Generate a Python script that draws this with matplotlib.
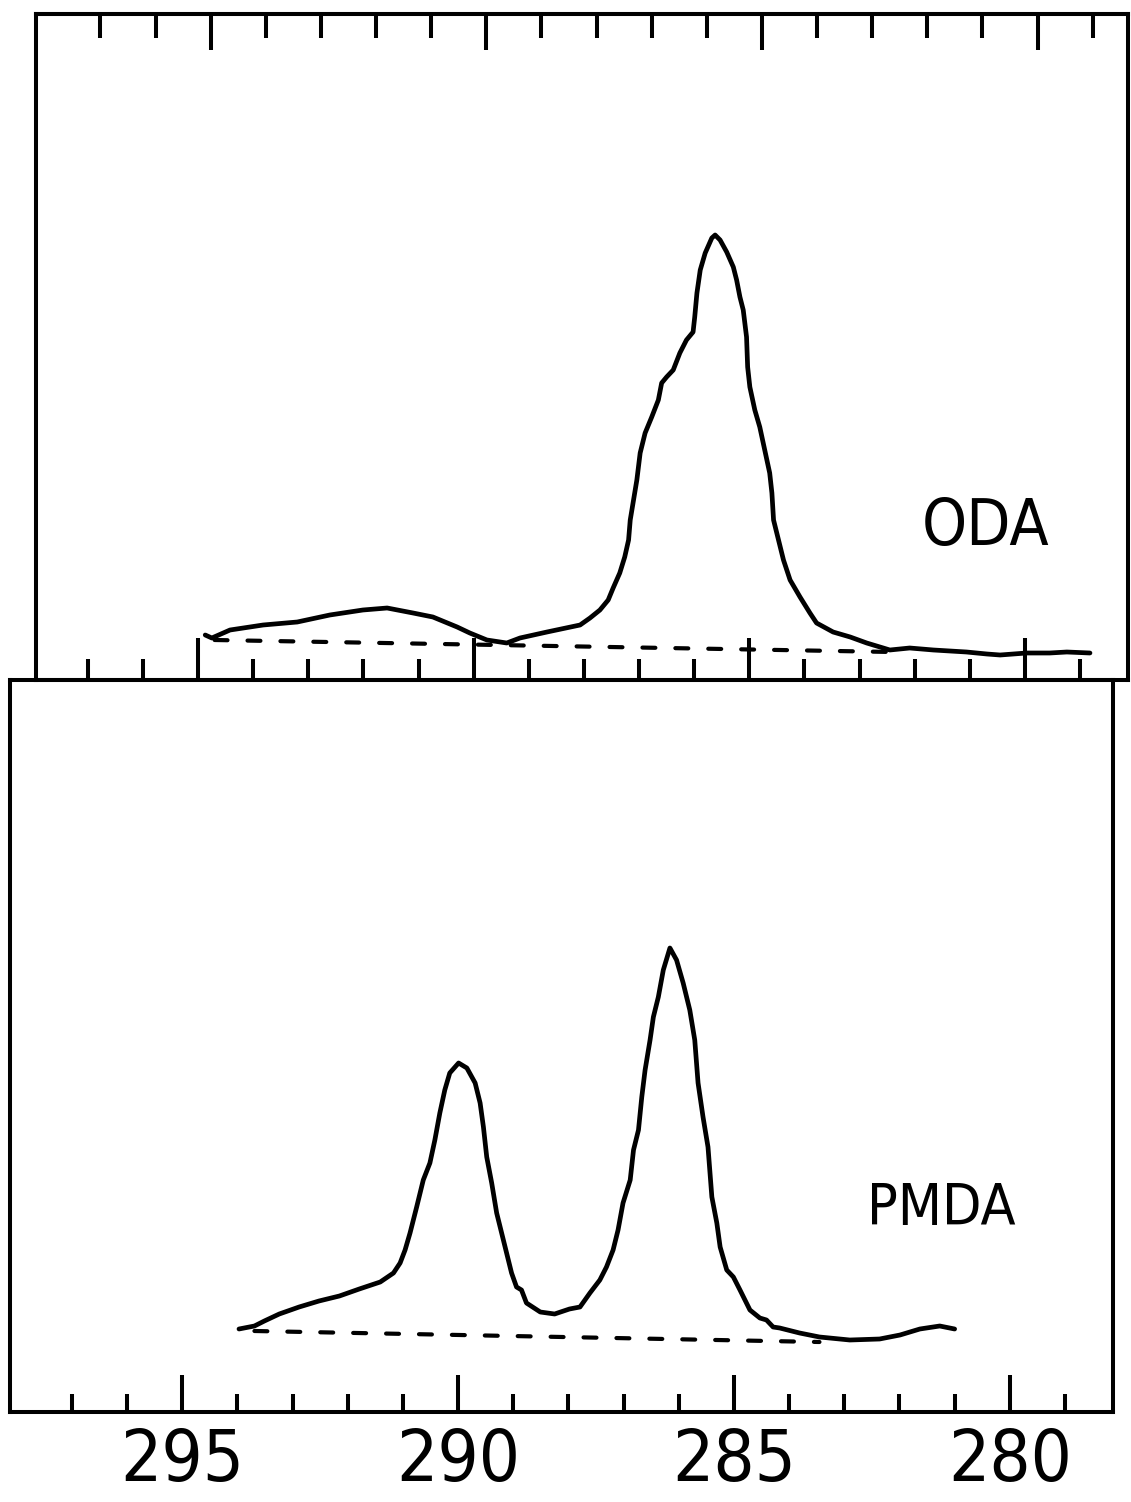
import matplotlib
matplotlib.use("Agg")
import matplotlib.pyplot as plt
from matplotlib.ticker import FixedLocator

# ---------------- data (binding energy in eV, intensity in arb. units) ----------------
oda_be = [294.87, 294.75, 294.42, 293.82, 293.20, 292.61, 292.01, 291.57, 291.10, 290.74,
          290.30, 290.07, 289.76, 289.40, 289.16, 288.67, 288.07, 287.89, 287.71, 287.56,
          287.47, 287.35, 287.26, 287.19, 287.16, 287.10, 287.04, 286.98, 286.89, 286.77,
          286.65, 286.59, 286.50, 286.38, 286.26, 286.14, 286.02, 285.99, 285.95, 285.89,
          285.80, 285.68, 285.62, 285.53, 285.41, 285.29, 285.23, 285.17, 285.11, 285.05,
          285.03, 284.99, 284.90, 284.81, 284.72, 284.63, 284.59, 284.56, 284.47, 284.38,
          284.26, 284.08, 283.90, 283.78, 283.48, 283.17, 282.87, 282.45, 282.09, 281.66,
          281.06, 280.69, 280.45, 279.97, 279.55, 279.24, 278.82]
oda_int = [45, 42, 50, 55, 58, 65, 70, 72, 67, 63,
           53, 47, 40, 37, 42, 48, 55, 62, 70, 80,
           92, 107, 123, 140, 160, 180, 200, 227, 247, 263,
           280, 297, 303, 310, 327, 340, 348, 363, 387, 410,
           427, 442, 445, 440, 428, 413, 400, 383, 370, 343,
           313, 293, 270, 253, 230, 207, 187, 160, 140, 120,
           100, 83, 67, 57, 48, 43, 37, 30, 32, 30,
           28, 26, 25, 27, 27, 28, 27]
oda_base_be = [294.70, 282.40]
oda_base_int = [40, 28]

pmda_be = [293.97, 293.69, 293.51, 293.24, 292.88, 292.52, 292.15, 291.79, 291.41, 291.17,
           291.05, 290.96, 290.87, 290.75, 290.63, 290.51, 290.42, 290.33, 290.24, 290.15,
           289.99, 289.84, 289.69, 289.60, 289.54, 289.48, 289.39, 289.30, 289.21, 289.12,
           289.03, 288.94, 288.85, 288.76, 288.51, 288.25, 287.98, 287.79, 287.61, 287.43,
           287.31, 287.19, 287.10, 287.01, 286.88, 286.82, 286.73, 286.67, 286.61, 286.52,
           286.46, 286.37, 286.28, 286.16, 286.04, 285.92, 285.80, 285.71, 285.65, 285.56,
           285.47, 285.40, 285.31, 285.25, 285.13, 285.01, 284.89, 284.71, 284.53, 284.41,
           284.29, 284.17, 283.81, 283.45, 282.90, 282.36, 281.99, 281.63, 281.27, 281.00]
pmda_int = [83, 86, 91, 98, 105, 111, 116, 123, 130, 139,
            149, 162, 179, 205, 232, 249, 272, 299, 322, 339,
            349, 344, 329, 309, 285, 255, 229, 199, 179, 159,
            139, 125, 122, 109, 100, 98, 103, 105, 119, 132,
            145, 162, 182, 209, 232, 262, 282, 315, 342, 372,
            395, 415, 442, 464, 452, 429, 402, 372, 329, 295,
            265, 215, 189, 165, 142, 135, 122, 102, 94, 92,
            85, 84, 79, 75, 72, 73, 77, 83, 86, 83]
pmda_base_be = [293.69, 283.45]
pmda_base_int = [81, 70]

major_ticks = [295, 290, 285, 280]
minor_ticks = list(range(279, 298))
tick_labels = ["295", "290", "285", "280"]
panel_names = ["ODA", "PMDA"]

# ---------------- figure ----------------
W, H = 1131, 1502
fig = plt.figure(figsize=(W / 100, H / 100), dpi=100)
fig.patch.set_facecolor("white")

font = ["DejaVu Sans"]
lw_spine = 2.9
lw_curve = 3.4

ax1 = fig.add_axes([36 / W, (H - 680) / H, 1092 / W, 666 / H])
ax2 = fig.add_axes([10 / W, (H - 1412) / H, 1103 / W, 732 / H])

ax1.set_xlim(297.94, 278.13)
ax1.set_ylim(0, 666)
ax2.set_xlim(298.12, 278.13)
ax2.set_ylim(0, 732)

for ax in (ax1, ax2):
    for s in ax.spines.values():
        s.set_linewidth(lw_spine)
        s.set_color("black")
    ax.set_yticks([])
    ax.set_facecolor("none")
    ax.xaxis.set_major_locator(FixedLocator(major_ticks))
    ax.xaxis.set_minor_locator(FixedLocator(minor_ticks))

# top panel: ticks on its bottom edge (pointing in), no labels
ax1.tick_params(axis="x", which="major", direction="in", length=30, width=2.9,
                bottom=True, top=False, labelbottom=False)
ax1.tick_params(axis="x", which="minor", direction="in", length=15, width=2.9,
                bottom=True, top=False)

# top edge ticks of the top panel (slightly offset, as in the scan)
sec = ax1.secondary_xaxis("top", functions=(lambda x: x + 0.23, lambda x: x - 0.23))
sec.xaxis.set_major_locator(FixedLocator(major_ticks))
sec.xaxis.set_minor_locator(FixedLocator(minor_ticks))
sec.tick_params(axis="x", which="major", direction="in", length=26, width=2.9, labeltop=False)
sec.tick_params(axis="x", which="minor", direction="in", length=17, width=2.9)
sec.spines["top"].set_linewidth(lw_spine)

# bottom panel
ax2.set_xticklabels(tick_labels)
ax2.tick_params(axis="x", which="major", direction="in", length=27, width=2.9, pad=11)
ax2.tick_params(axis="x", which="minor", direction="in", length=13, width=2.9)
for lab in ax2.get_xticklabels():
    lab.set_fontfamily(font)
    lab.set_fontstretch("condensed")
    lab.set_fontsize(52)

# curves
ax1.plot(oda_be, oda_int, color="black", lw=lw_curve, solid_joinstyle="round",
         solid_capstyle="round")
ax1.plot(oda_base_be, oda_base_int, color="black", lw=3.0, dashes=(3.1, 4.8),
         dash_capstyle="round")
ax2.plot(pmda_be, pmda_int, color="black", lw=lw_curve, solid_joinstyle="round",
         solid_capstyle="round")
ax2.plot(pmda_base_be, pmda_base_int, color="black", lw=3.0, dashes=(3.1, 4.8),
         dash_capstyle="round")

ax1.text(281.87, 135, panel_names[0], fontsize=46, family=font, stretch="condensed",
         ha="left", va="baseline")
ax2.text(282.59, 187, panel_names[1], fontsize=41, family=font, stretch="condensed",
         ha="left", va="baseline")

fig.savefig("out.png", dpi=100, facecolor="white")
